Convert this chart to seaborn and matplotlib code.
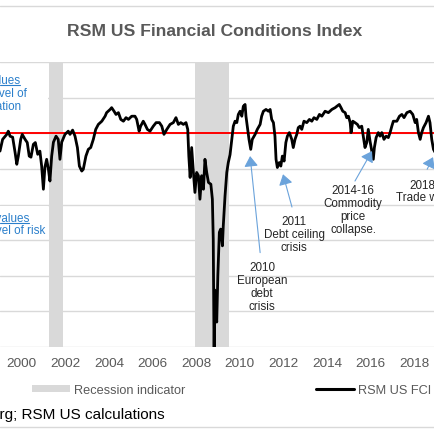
import matplotlib
matplotlib.use('Agg')
import matplotlib.pyplot as plt
from matplotlib.lines import Line2D
from matplotlib.patches import Patch, Rectangle
import pandas as pd
import seaborn as sns

# RSM US FCI (decimal year, index value)
years = [1999.00, 1999.12, 1999.31, 1999.38, 1999.46, 1999.58, 1999.69, 1999.77, 1999.84, 1999.95,
         2000.02, 2000.15, 2000.25, 2000.34, 2000.42, 2000.53, 2000.62, 2000.73, 2000.83, 2000.91,
         2000.99, 2001.06, 2001.14, 2001.22, 2001.29, 2001.37, 2001.45, 2001.57, 2001.67, 2001.75,
         2001.83, 2001.98, 2002.13, 2002.21, 2002.33, 2002.44, 2002.55, 2002.64, 2002.75, 2002.82,
         2002.94, 2003.05, 2003.16, 2003.28, 2003.39, 2003.51, 2003.67, 2003.82, 2003.89, 2004.05,
         2004.12, 2004.23, 2004.32, 2004.43, 2004.54, 2004.66, 2004.78, 2004.89, 2005.04, 2005.19,
         2005.27, 2005.38, 2005.45, 2005.57, 2005.65, 2005.76, 2005.88, 2006.03, 2006.16, 2006.31,
         2006.42, 2006.52, 2006.65, 2006.80, 2006.95, 2007.07, 2007.18, 2007.29, 2007.41, 2007.53,
         2007.61, 2007.66, 2007.72, 2007.79, 2007.87, 2007.94, 2008.02, 2008.10, 2008.17, 2008.25,
         2008.33, 2008.40, 2008.48, 2008.56, 2008.67, 2008.74, 2008.78, 2008.82, 2008.85, 2008.89,
         2008.94, 2008.99, 2009.06, 2009.12, 2009.20, 2009.24, 2009.32, 2009.40, 2009.47, 2009.55,
         2009.63, 2009.70, 2009.78, 2009.86, 2009.93, 2010.01, 2010.09, 2010.16, 2010.24, 2010.28,
         2010.34, 2010.42, 2010.50, 2010.57, 2010.70, 2010.80, 2010.93, 2011.00, 2011.08, 2011.20,
         2011.31, 2011.39, 2011.46, 2011.54, 2011.61, 2011.66, 2011.72, 2011.81, 2011.88, 2011.95,
         2012.03, 2012.11, 2012.18, 2012.27, 2012.38, 2012.45, 2012.53, 2012.61, 2012.68, 2012.76,
         2012.84, 2012.94, 2013.07, 2013.19, 2013.30, 2013.40, 2013.53, 2013.65, 2013.76, 2013.91,
         2014.06, 2014.22, 2014.37, 2014.45, 2014.56, 2014.64, 2014.72, 2014.83, 2014.90, 2014.98,
         2015.06, 2015.10, 2015.18, 2015.28, 2015.39, 2015.48, 2015.59, 2015.67, 2015.74, 2015.82,
         2015.89, 2015.97, 2016.05, 2016.12, 2016.17, 2016.25, 2016.35, 2016.43, 2016.51, 2016.61,
         2016.71, 2016.81, 2016.89, 2016.97, 2017.04, 2017.20, 2017.32, 2017.43, 2017.53, 2017.66,
         2017.81, 2017.93, 2018.04, 2018.11, 2018.19, 2018.27, 2018.34, 2018.42, 2018.54, 2018.65,
         2018.72, 2018.80, 2018.88, 2018.95]
fci = [-0.50, -0.17, -0.03, 0.06, -0.08, -0.11, -0.53, -0.87, -0.64, -0.17,
       -0.03, -0.17, -0.26, -0.64, -0.67, -0.31, -0.26, -0.59, -0.50, -0.92,
       -1.57, -0.95, -0.73, -1.01, -1.34, -0.64, -0.25, -0.08, -0.17, -0.73,
       -0.25, -0.03, 0.06, -0.03, 0.09, -0.08, -0.40, -0.92, -1.06, -1.01,
       -0.64, -0.45, -0.40, -0.17, 0.11, 0.25, 0.34, 0.48, 0.58, 0.67,
       0.72, 0.62, 0.53, 0.58, 0.39, 0.34, 0.44, 0.39, 0.48, 0.48,
       0.39, 0.06, 0.20, 0.34, 0.25, 0.11, 0.06, 0.20, 0.30, 0.30,
       0.20, -0.03, 0.11, 0.25, 0.30, 0.44, 0.25, 0.30, 0.25, 0.30,
       0.11, -0.64, -1.24, -0.40, -1.10, -1.66, -1.10, -1.19, -1.85, -1.19,
       -1.57, -0.73, -1.10, -1.38, -1.43, -1.85, -2.97, -6.30, -4.40, -4.84,
       -5.30, -4.00, -2.78, -2.69, -3.16, -2.60, -1.76, -1.10, -0.82, -0.60,
       -0.17, 0.20, 0.34, 0.30, 0.53, 0.62, 0.48, 0.76, 0.81, 0.48,
       0.20, -0.17, -0.45, -0.17, -0.03, 0.11, 0.25, 0.48, 0.62, 0.67,
       0.62, 0.67, 0.39, 0.30, -0.08, -0.73, -0.96, -0.82, -0.92, -0.64,
       -0.78, -0.26, -0.08, 0.02, -0.17, -0.40, -0.17, -0.03, 0.16, 0.20,
       0.11, 0.34, 0.30, 0.39, 0.34, 0.44, 0.39, 0.53, 0.48, 0.62,
       0.58, 0.67, 0.72, 0.76, 0.81, 0.72, 0.62, 0.58, 0.44, 0.48,
       0.30, 0.02, 0.34, 0.30, 0.25, 0.16, 0.20, -0.12, -0.40, -0.26,
       0.11, -0.22, -0.50, -0.73, -0.40, -0.12, 0.02, -0.08, 0.02, -0.17,
       -0.08, -0.12, 0.02, 0.20, 0.34, 0.34, 0.48, 0.53, 0.44, 0.58,
       0.62, 0.53, 0.30, 0.39, 0.02, -0.17, 0.02, 0.16, 0.30, 0.48,
       0.30, -0.17, -0.45, -0.53]

recessions = [(2001.25, 2001.89), (2007.95, 2009.50)]
tick_years = list(range(2000, 2019, 2))

event_labels = ['2010\nEuropean\ndebt\ncrisis', '2011\nDebt ceiling\ncrisis',
                '2014-16\nCommodity\nprice\ncollapse.', '2018\nTrade war']
event_tips = [(2010.47, -0.64), (2011.98, -1.15), (2016.06, -0.50), (2018.86, -0.67)]

# layout for the annotations (arrow tail and text centre, data units)
arrow_tails = [(2010.93, -3.35), (2012.39, -2.07), (2015.28, -1.34), (2018.59, -1.01)]
text_centres = [(2011.02, -4.31), (2012.49, -2.83), (2015.19, -2.13), (2018.36, -1.62)]

df = pd.DataFrame({'year': years, 'fci': fci})

sns.set_style('white')
plt.rcParams['font.family'] = ['Liberation Sans', 'DejaVu Sans']

fig = plt.figure(figsize=(4.35, 4.35), dpi=100)
ax = fig.add_axes([0, 0.2, 1, 0.655])

for a, b in recessions:
    ax.axvspan(a, b, color='#D9D9D9', lw=0, zorder=1)

ax.axhline(0, color='#FF0000', lw=1.4, zorder=2)
sns.lineplot(x=df['year'], y=df['fci'], ax=ax, color='black', lw=2.0,
             sort=False, estimator=None, zorder=3)

ax.set_xlim(1999.0, 2018.95)
ax.set_ylim(-6, 2)
ax.set_yticks(range(-6, 3))
ax.set_xticks(tick_years)
ax.set_xticklabels([str(y) for y in tick_years])
ax.tick_params(axis='x', length=0, pad=7, labelsize=9.7, labelcolor='#595959')
ax.tick_params(axis='y', length=0, labelleft=False)
ax.yaxis.grid(True, color='#D9D9D9', lw=1)
ax.set_axisbelow(True)
ax.set_xlabel('')
ax.set_ylabel('')
for s in ax.spines.values():
    s.set_visible(False)

for lab, tip, tail, pos in zip(event_labels, event_tips, arrow_tails, text_centres):
    ax.annotate('', xy=tip, xytext=tail,
                arrowprops=dict(arrowstyle='-|>,head_length=0.3,head_width=0.2',
                                color='#6BA3DB', lw=0.8, mutation_scale=21,
                                shrinkA=0, shrinkB=0), zorder=4)
    ax.text(pos[0], pos[1], lab, ha='center', va='center', fontsize=8.4,
            color='#262626', linespacing=1.1, zorder=4)

# white boxes behind the side notes
W = 435.0
ax.add_patch(Rectangle((0, 1 - 113 / W), 48 / W, 40 / W, transform=fig.transFigure,
                       facecolor='white', edgecolor='none', zorder=1.5, clip_on=False))
ax.add_patch(Rectangle((0, 1 - 239 / W), 48 / W, 32 / W, transform=fig.transFigure,
                       facecolor='white', edgecolor='none', zorder=1.5, clip_on=False))

blue = '#2A7FCB'
notes = [('Positive values', 20, 81, True), ('= higher level of', 27, 94, False),
         ('speculation', 22, 107, False), ('Negative values', 29, 219, True),
         ('= higher level of risk', 45, 231, False)]
note_texts = []
for s, xe, yc, ul in notes:
    t = fig.text(xe / W, 1 - yc / W, s, ha='right', va='center', fontsize=8.4, color=blue)
    note_texts.append((t, ul))

fig.text(215 / W, 1 - 32 / W, 'RSM US Financial Conditions Index', ha='center', va='center',
         fontsize=12.6, fontweight='bold', color='#595959')

handles = [Patch(facecolor='#D9D9D9', edgecolor='none', label='Recession indicator'),
           Line2D([], [], color='black', lw=2.2, label='RSM US FCI')]
fig.legend(handles=handles, loc='center left', bbox_to_anchor=(32 / W, 1 - 391 / W),
           ncol=2, frameon=False, fontsize=9.2, handlelength=3.0, handleheight=0.55,
           handletextpad=0.3, columnspacing=10.2, borderpad=0, borderaxespad=0,
           labelcolor='#595959')

fig.text(165 / W, 1 - 415 / W, 'Source: Bloomberg; RSM US calculations', ha='right',
         va='center', fontsize=11, color='black')

for yy in (7, 428):
    fig.add_artist(Line2D([0, 1], [1 - yy / W] * 2, transform=fig.transFigure,
                          color='#D9D9D9', lw=1))

# underline the "values" lines
fig.canvas.draw()
r = fig.canvas.get_renderer()
inv = fig.transFigure.inverted()
for t, ul in note_texts:
    if ul:
        bb = t.get_window_extent(r)
        (x0, y0), (x1, _) = inv.transform([(bb.x0, bb.y0), (bb.x1, bb.y1)])
        fig.add_artist(Line2D([max(x0, 0), x1], [y0 + 0.002] * 2, transform=fig.transFigure,
                              color=blue, lw=0.8))

fig.savefig('out.png', dpi=100)
